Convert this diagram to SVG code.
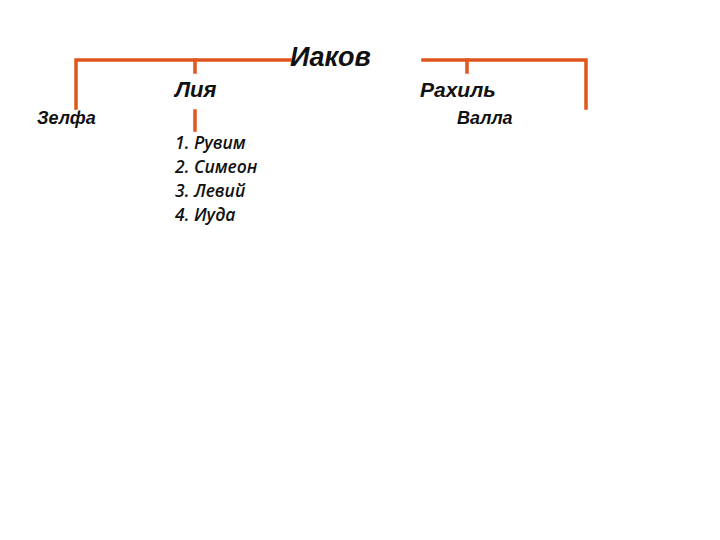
<svg xmlns="http://www.w3.org/2000/svg" width="720" height="540" viewBox="0 0 720 540">
<style>
.ln{stroke:#e0561c;stroke-width:3.5;fill:none;stroke-linecap:square}
.t{font-family:"Liberation Sans",Arial,sans-serif;font-style:italic;font-weight:bold;fill:#111}
.l{font-family:"Open Sans","Liberation Sans",sans-serif;font-style:italic;font-weight:600;font-size:17.5px;fill:#111}
</style>
<rect width="720" height="540" fill="#fff"/>
<g id="connectors">
<path class="ln" d="M76,108 V60 H290"/>
<path class="ln" d="M195,60 V72"/>
<path class="ln" d="M195,111 V130"/>
<path class="ln" d="M423,60 H586 V108"/>
<path class="ln" d="M467,60 V72"/>
</g>
<g id="iakov"><text class="t" x="290" y="66" font-size="27">Иаков</text></g>
<g id="liya"><text class="t" x="175" y="97" font-size="22">Лия</text></g>
<g id="zelfa"><text class="t" x="37" y="124" font-size="18">Зелфа</text></g>
<g id="rahil"><text class="t" x="420" y="97" font-size="21">Рахиль</text></g>
<g id="valla"><text class="t" x="457" y="124" font-size="18">Валла</text></g>
<g id="sons">
<text class="l" x="175" y="149">1. Рувим</text>
<text class="l" x="175" y="173">2. Симеон</text>
<text class="l" x="175" y="197">3. Левий</text>
<text class="l" x="175" y="221">4. Иуда</text>
</g>
</svg>
